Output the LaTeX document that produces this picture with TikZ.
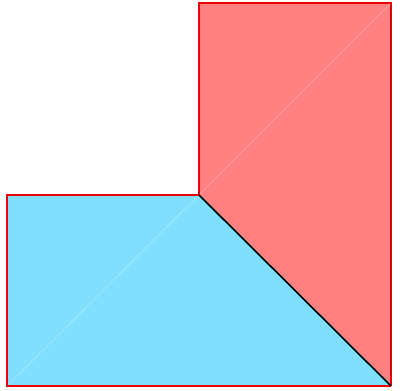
\documentclass[tikz,border=0pt]{standalone}
\usepackage{tikz}

\definecolor{redfill}{RGB}{255,128,128}
\definecolor{bluefill}{RGB}{128,223,255}
\definecolor{edgered}{RGB}{235,0,0}

\begin{document}
\begin{tikzpicture}[
    x=1pt, y=-1pt,
    piece/.style={draw=edgered, line width=1.8pt, line join=miter},
    seam/.style={draw=white, opacity=0.35, line width=0.6pt},
    cut/.style={draw=black, line width=1.6pt}
  ]
    \useasboundingbox (0,0) rectangle (402,391);

    % corners of the L-shape
    \coordinate (tl) at (199,3);
    \coordinate (tr) at (391,3);
    \coordinate (br) at (391,386);
    \coordinate (bl) at (7,386);
    \coordinate (ml) at (7,195);
    \coordinate (c)  at (199,195);

    % red and blue pieces
    \fill[redfill] (tl) -- (tr) -- (br) -- (c) -- cycle;
    \fill[bluefill] (ml) -- (c) -- (br) -- (bl) -- cycle;

    % seams
    \draw[seam] (c) -- (tr);
    \draw[seam] (bl) -- (c);

    % outlines
    \draw[piece] (c) -- (tl) -- (tr) -- (br);
    \draw[piece] (c) -- (ml) -- (bl) -- (br);
    \draw[cut] (c) -- (br);
  \end{tikzpicture}
\end{document}
